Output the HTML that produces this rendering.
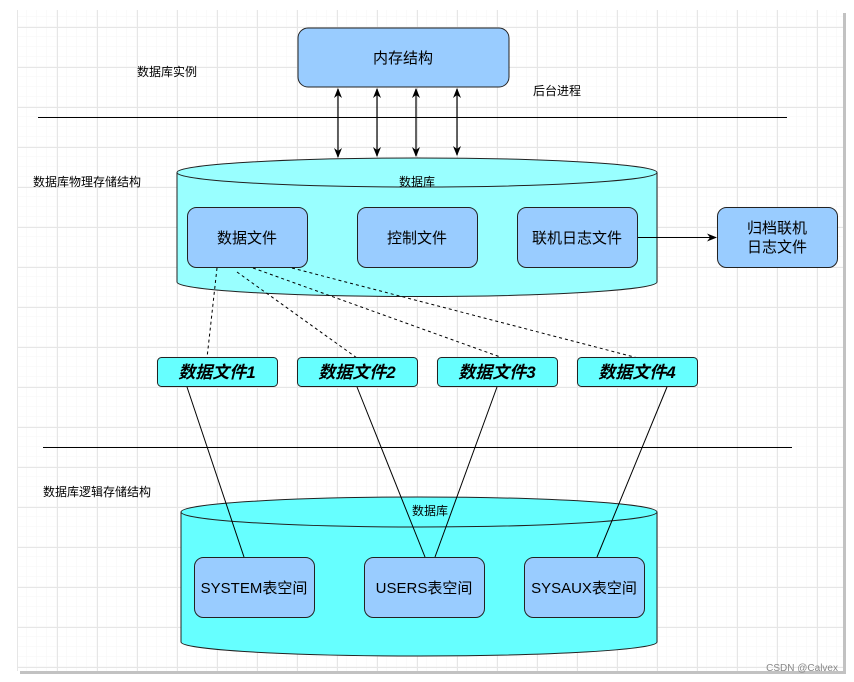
<!DOCTYPE html>
<html><head><meta charset="utf-8"><style>
html,body{margin:0;padding:0;background:#fff;}
svg{display:block;}
text{font-family:"Liberation Sans","Noto Sans CJK SC",sans-serif;fill:#000;}
</style></head><body>
<svg width="854" height="682" viewBox="0 0 854 682" xmlns="http://www.w3.org/2000/svg">
<defs>
<pattern id="minor" width="10" height="10" patternUnits="userSpaceOnUse" x="17" y="27">
<path d="M10 0V10M0 10H10" fill="none" stroke="#f5f5f5" stroke-width="1"/>
</pattern>
<pattern id="major" width="40" height="40" patternUnits="userSpaceOnUse" x="17" y="27">
<path d="M0.5 0V40M0 0.5H40" fill="none" stroke="#e6e6e6" stroke-width="1"/>
</pattern>
<marker id="ah" markerWidth="10" markerHeight="10" refX="9" refY="5" orient="auto" markerUnits="userSpaceOnUse">
<path d="M0,1 L10,5 L0,9 L3,5 z" fill="#000"/>
</marker>
<marker id="as" markerWidth="10" markerHeight="10" refX="1" refY="5" orient="auto" markerUnits="userSpaceOnUse">
<path d="M10,1 L0,5 L10,9 L7,5 z" fill="#000"/>
</marker>
</defs>
<rect width="854" height="682" fill="#fff"/>
<rect x="20" y="13" width="826" height="661" fill="#999" opacity="0.6"/>
<rect x="17" y="10" width="826" height="661" fill="#fff"/>
<rect x="17" y="10" width="826" height="661" fill="url(#minor)"/>
<rect x="17" y="10" width="826" height="661" fill="url(#major)"/>

<rect x="298" y="28" width="211" height="59" rx="10" fill="#99ccff" stroke="#222" stroke-width="1"/>
<text x="403" y="63" font-size="15" text-anchor="middle">内存结构</text>
<text x="137" y="76" font-size="12">数据库实例</text>
<text x="533" y="95" font-size="12">后台进程</text>
<line x1="38" y1="117.5" x2="787" y2="117.5" stroke="#000"/>
<g stroke="#000" stroke-width="1.2" marker-end="url(#ah)" marker-start="url(#as)">
<line x1="338" y1="89" x2="338" y2="157"/>
<line x1="377" y1="89" x2="377" y2="156"/>
<line x1="416" y1="89" x2="416" y2="156"/>
<line x1="457" y1="89" x2="457" y2="155"/>
</g>

<path d="M177,172.5 A240,14.5 0 0 1 657,172.5 V282 A240,14.5 0 0 1 177,282 Z" fill="#99ffff" stroke="#222"/>
<path d="M177,172.5 A240,14.5 0 0 0 657,172.5" fill="none" stroke="#222"/>
<text x="417" y="186" font-size="12" text-anchor="middle">数据库</text>
<text x="33" y="186" font-size="12">数据库物理存储结构</text>
<g fill="#99ccff" stroke="#222">
<rect x="187.5" y="207.5" width="120" height="60" rx="9"/>
<rect x="357.5" y="207.5" width="120" height="60" rx="9"/>
<rect x="517.5" y="207.5" width="120" height="60" rx="9"/>
<rect x="717.5" y="207.5" width="120" height="60" rx="9"/>
</g>
<g font-size="15" text-anchor="middle">
<text x="247" y="243">数据文件</text>
<text x="417" y="243">控制文件</text>
<text x="577" y="243">联机日志文件</text>
<text x="777" y="233">归档联机</text>
<text x="777" y="252">日志文件</text>
</g>
<line x1="638" y1="237.5" x2="716" y2="237.5" stroke="#000" marker-end="url(#ah)"/>

<g stroke="#000" stroke-dasharray="3,3" fill="none">
<line x1="217" y1="268" x2="207" y2="358"/>
<line x1="237" y1="272" x2="357" y2="358"/>
<line x1="253" y1="268" x2="503" y2="358"/>
<line x1="292" y1="268" x2="638" y2="358"/>
</g>

<g fill="#66ffff" stroke="#222">
<rect x="157.5" y="357.5" width="120" height="29" rx="4"/>
<rect x="297.5" y="357.5" width="120" height="29" rx="4"/>
<rect x="437.5" y="357.5" width="120" height="29" rx="4"/>
<rect x="577.5" y="357.5" width="120" height="29" rx="4"/>
</g>
<g font-size="17" font-weight="bold" font-style="italic" text-anchor="middle">
<text x="217" y="378">数据文件1</text>
<text x="357" y="378">数据文件2</text>
<text x="497" y="378">数据文件3</text>
<text x="637" y="378">数据文件4</text>
</g>

<line x1="43" y1="447.5" x2="792" y2="447.5" stroke="#000"/>
<text x="43" y="496" font-size="12">数据库逻辑存储结构</text>

<path d="M181,512 A238,15 0 0 1 657,512 V642 A238,14 0 0 1 181,642 Z" fill="#66ffff" stroke="#222"/>
<path d="M181,512 A238,15 0 0 0 657,512" fill="none" stroke="#222"/>
<text x="430" y="515" font-size="12" text-anchor="middle">数据库</text>

<g stroke="#000" fill="none">
<line x1="187" y1="387" x2="244" y2="557"/>
<line x1="357" y1="387" x2="425" y2="557"/>
<line x1="497" y1="387" x2="435" y2="557"/>
<line x1="667" y1="387" x2="597" y2="557"/>
</g>
<g fill="#99ccff" stroke="#222">
<rect x="194.5" y="557.5" width="120" height="60" rx="9"/>
<rect x="364.5" y="557.5" width="120" height="60" rx="9"/>
<rect x="524.5" y="557.5" width="120" height="60" rx="9"/>
</g>
<g font-size="15" text-anchor="middle">
<text x="254" y="593">SYSTEM表空间</text>
<text x="424" y="593">USERS表空间</text>
<text x="584" y="593">SYSAUX表空间</text>
</g>
<text x="838" y="671" font-size="10" text-anchor="end" style="fill:#888">CSDN @Calvex</text>
</svg>
</body></html>
